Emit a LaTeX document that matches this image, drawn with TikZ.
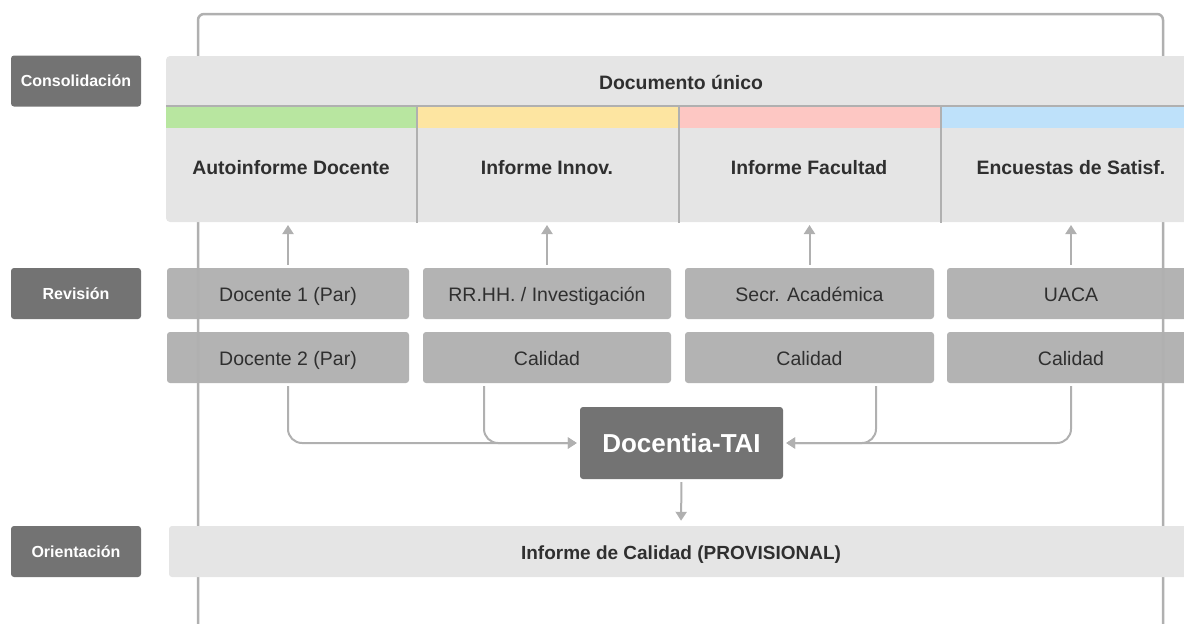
\documentclass[tikz,border=0pt]{standalone}
\usepackage{fontspec}
\setmainfont{Liberation Sans}
\usepackage{tikz}
\usetikzlibrary{arrows.meta,positioning}

\definecolor{lanegray}{HTML}{737373}
\definecolor{panelgray}{HTML}{E5E5E5}
\definecolor{revgray}{HTML}{B3B3B3}
\definecolor{linegray}{HTML}{B0B0B0}
\definecolor{inkgray}{HTML}{2F2F2F}
\definecolor{stripgreen}{HTML}{B8E6A0}
\definecolor{stripyellow}{HTML}{FDE5A1}
\definecolor{strippink}{HTML}{FDC7C3}
\definecolor{stripblue}{HTML}{BEE1FA}

\begin{document}
\begin{tikzpicture}[x=1pt, y=-1pt, >={Triangle[length=9pt,width=11pt]},
    lane/.style={rectangle, rounded corners=3pt, fill=lanegray, text=white,
        font=\bfseries\fontsize{16}{19}\selectfont, minimum width=130pt, minimum height=51pt},
    rev/.style={rectangle, rounded corners=3pt, fill=revgray, text=inkgray,
        font=\fontsize{19.5}{23}\selectfont, minimum height=51pt,
        text height=20pt, text depth=4pt},
    head/.style={text=inkgray, font=\bfseries\fontsize{19.4}{23}\selectfont,
        text height=20pt, text depth=4pt},
    core/.style={rectangle, rounded corners=3pt, fill=lanegray, text=white,
        font=\bfseries\fontsize{26}{31}\selectfont, minimum width=203pt, minimum height=72pt},
    link/.style={draw=linegray, line width=2pt},
    arr/.style={link, ->, shorten >=3pt, shorten <=3pt}]
    \useasboundingbox (0,0) rectangle (1184,624);

    % lane labels
    \node [lane] (cons) at (76,81)    {Consolidación};
    \node [lane] (revi) at (76,293.5) {Revisión};
    \node [lane] (orie) at (76,551.5) {Orientación};

    % reviewers
    \node [rev, minimum width=242pt] (doc1) at (288,293.5)   {Docente 1 (Par)};
    \node [rev, minimum width=242pt] (doc2) at (288,357.5)   {Docente 2 (Par)};
    \node [rev, minimum width=248pt] (rrhh) at (547,293.5)   {RR.HH. / Investigación};
    \node [rev, minimum width=248pt] (cal2) at (547,357.5)   {Calidad};
    \node [rev, minimum width=249pt] (secr) at (809.5,293.5) {Secr. Académica};
    \node [rev, minimum width=249pt] (cal3) at (809.5,357.5) {Calidad};
    \node [rev, minimum width=248pt] (uaca) at (1071,293.5)  {UACA};
    \node [rev, minimum width=248pt] (cal4) at (1071,357.5)  {Calidad};

    % outer frame
    \draw [linegray, line width=2.5pt, rounded corners=6pt]
        (198,640) -- (198,14) -- (1163,14) -- (1163,640);

    % consolidation panel
    \fill [panelgray, rounded corners=4pt] (166,56) rectangle (1200,222);
    \fill [stripgreen]  (166,107) rectangle (416,128);
    \fill [stripyellow] (417,107) rectangle (678,128);
    \fill [strippink]   (679,107) rectangle (940,128);
    \fill [stripblue]   (941,107) rectangle (1200,128);
    \draw [link] (166,106) -- (1200,106);
    \foreach \x in {416.5,678.5,940.5}
        \draw [link] (\x,106) -- (\x,223);
    \node [head] (unico) at (681,81)   {Documento único};
    \node [head] (auto) at (291,166)   {Autoinforme Docente};
    \node [head] (inno) at (547,166)   {Informe Innov.};
    \node [head] (facu) at (809,166)   {Informe Facultad};
    \node [head] (encu) at (1071,166)  {Encuestas de Satisf.};

    % orientation panel
    \fill [panelgray, rounded corners=3pt] (169,526) rectangle (1200,577);
    \node [head, font=\bfseries\fontsize{19}{23}\selectfont, minimum height=51pt]
        (prov) at (681,551.5) {Informe de Calidad (PROVISIONAL)};

    % core
    \node [core] (tai) at (681.5,443) {Docentia-TAI};

    % Paths
    \draw [arr] (doc1.north) -- (doc1 |- 0,222);
    \draw [arr] (rrhh.north) -- (rrhh |- 0,222);
    \draw [arr] (secr.north) -- (secr |- 0,222);
    \draw [arr] (uaca.north) -- (uaca |- 0,222);

    \draw [arr, rounded corners=14pt] (doc2.south) |- (tai.west);
    \draw [arr, rounded corners=14pt] ([xshift=-63pt]cal2.south) |- (tai.west);
    \draw [arr, rounded corners=14pt] ([xshift=66.5pt]cal3.south) |- (tai.east);
    \draw [arr, rounded corners=14pt] (cal4.south) |- (tai.east);

    \draw [arr, shorten >=5pt] (tai.south) -- (prov.north);
\end{tikzpicture}
\end{document}
